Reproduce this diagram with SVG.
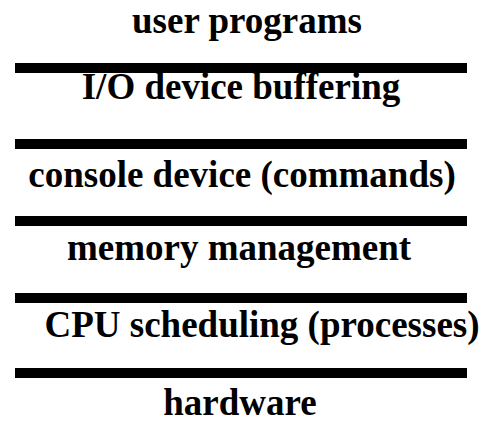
<svg xmlns="http://www.w3.org/2000/svg" width="485" height="423" viewBox="0 0 485 423">
<style>
text{font-family:"Liberation Serif","Times New Roman",serif;font-weight:bold;font-size:37px;fill:#000;text-anchor:middle}
.bar{fill:#000}
</style>
<rect width="485" height="423" fill="#fff"/>
<g id="connectors">
<rect class="bar" x="15" y="63" width="452" height="10"/>
<rect class="bar" x="15" y="139" width="452" height="10"/>
<rect class="bar" x="15" y="216" width="452" height="10"/>
<rect class="bar" x="15" y="293" width="452" height="10"/>
<rect class="bar" x="15" y="368" width="452" height="10"/>
</g>
<g id="user"><text x="247" y="33">user programs</text></g>
<g id="io"><text x="241" y="99">I/O device buffering</text></g>
<g id="console"><text x="242" y="187">console device (commands)</text></g>
<g id="memory"><text x="239" y="260">memory management</text></g>
<g id="cpu"><text x="262" y="337">CPU scheduling (processes)</text></g>
<g id="hardware"><text x="240" y="415">hardware</text></g>
</svg>
